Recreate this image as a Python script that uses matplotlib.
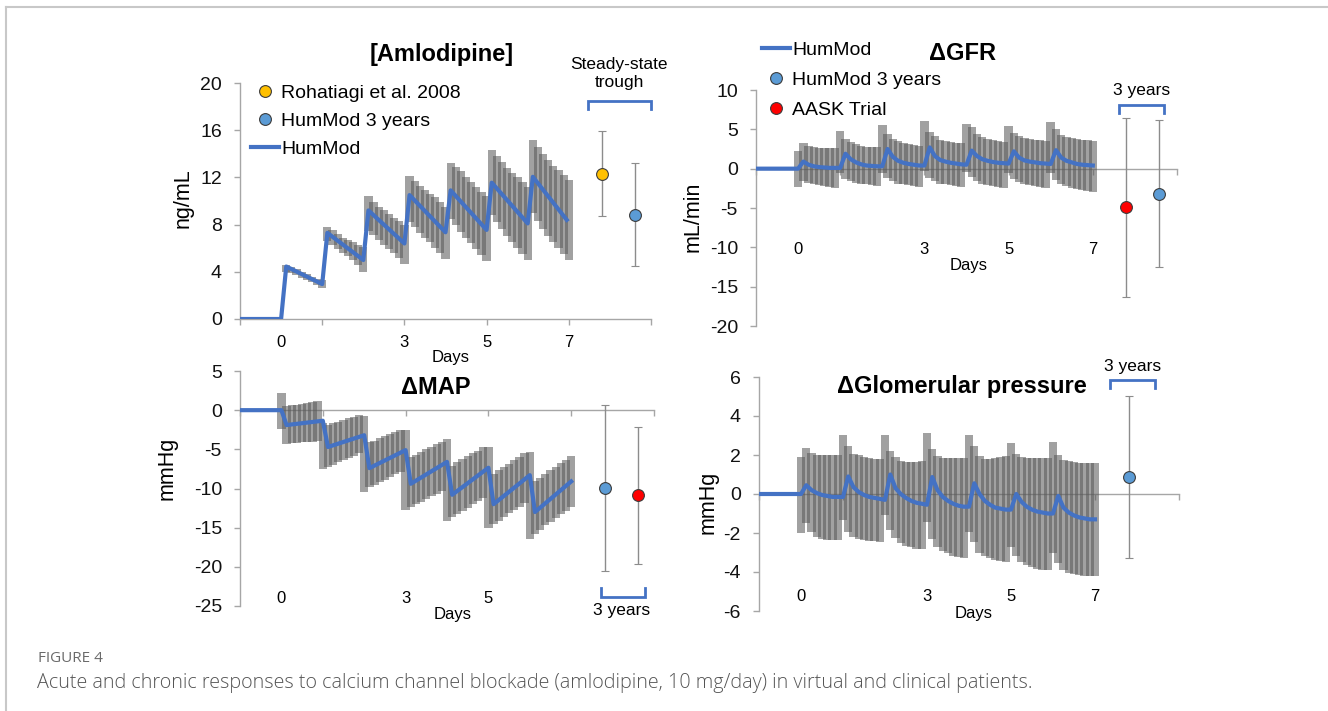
import numpy as np
import matplotlib.pyplot as plt
from matplotlib.lines import Line2D
from matplotlib.transforms import blended_transform_factory

plt.rcParams['font.family'] = ['Liberation Sans', 'DejaVu Sans']
plt.rcParams['axes.unicode_minus'] = False

W, H = 1328, 711

# grey bars: sampled every 3 h from day 0 to day 7
bar_t = np.arange(57) / 8.0
line_t = [-1] + list(bar_t)

# ---- [Amlodipine] ng/mL ----
aml_line_t = [-1, 0, 0.125, 1, 1.125, 2, 2.125, 3, 3.125, 4, 4.125, 5, 5.125, 6, 6.125, 6.95]
aml_line_y = [0, 0, 4.45, 2.96, 7.3, 5.0, 9.2, 6.4, 10.5, 7.35, 10.9, 7.55, 11.55, 8.1, 12.05, 8.4]
aml_hi = [0,
          4.6, 4.4, 4.2, 4.0, 3.8, 3.6, 3.4, 3.3,
          7.8, 7.5, 7.2, 6.9, 6.7, 6.5, 6.3, 6.1,
          10.4, 9.9, 9.5, 9.2, 8.9, 8.6, 8.3, 8.0,
          12.1, 11.7, 11.3, 10.9, 10.6, 10.3, 9.9, 9.5,
          13.2, 12.9, 12.5, 12.0, 11.6, 11.2, 10.8, 10.4,
          14.3, 13.8, 13.3, 12.8, 12.4, 12.0, 11.6, 11.2,
          15.2, 14.6, 14.0, 13.5, 13.0, 12.6, 12.2, 11.8]
aml_lo = [0,
          4.0, 3.9, 3.7, 3.5, 3.3, 3.1, 2.9, 2.6,
          6.6, 6.3, 5.9, 5.6, 5.3, 5.0, 4.6, 4.0,
          7.5, 7.1, 6.7, 6.3, 5.9, 5.6, 5.2, 4.7,
          8.2, 7.8, 7.3, 6.9, 6.5, 6.0, 5.6, 5.1,
          8.5, 8.0, 7.4, 6.9, 6.4, 5.9, 5.4, 4.9,
          8.8, 8.2, 7.6, 7.0, 6.5, 6.0, 5.5, 5.0,
          9.0, 8.3, 7.6, 7.0, 6.5, 6.0, 5.5, 5.0]
aml_pt_x = [7.8, 8.6]
aml_pt_y = [12.3, 8.85]
aml_pt_lo = [8.7, 4.5]
aml_pt_hi = [15.9, 13.2]

# ---- dGFR mL/min ----
gfr_line_y = [0,
              0, 0.9, 0.5, 0.3, 0.2, 0.15, 0.1, 0.1,
              0.1, 1.9, 1.2, 0.8, 0.55, 0.4, 0.35, 0.3,
              0.3, 2.5, 1.5, 1.0, 0.75, 0.6, 0.5, 0.4,
              0.4, 2.7, 1.6, 1.1, 0.9, 0.75, 0.65, 0.55,
              0.5, 2.3, 1.6, 1.2, 1.0, 0.85, 0.75, 0.7,
              0.65, 2.2, 1.4, 1.05, 0.9, 0.8, 0.7, 0.65,
              0.6, 2.35, 1.4, 1.0, 0.8, 0.6, 0.5, 0.45,
              0.4]
gfr_hi = [2.3, 3.3, 2.9, 2.7, 2.6, 2.6, 2.6, 2.6,
          4.8, 3.8, 3.4, 3.1, 2.9, 2.8, 2.8, 2.7,
          5.6, 4.4, 3.8, 3.5, 3.3, 3.1, 3.0, 2.9,
          6.0, 4.7, 4.1, 3.7, 3.5, 3.4, 3.3, 3.2,
          5.7, 5.3, 4.4, 4.0, 3.8, 3.6, 3.5, 3.4,
          5.4, 4.5, 4.1, 3.9, 3.8, 3.7, 3.6, 3.5,
          5.9, 5.0, 4.3, 4.0, 3.9, 3.8, 3.7, 3.6,
          3.5]
gfr_lo = [-2.3, -1.6, -1.8, -2.0, -2.1, -2.2, -2.3, -2.4,
          -0.6, -1.3, -1.6, -1.8, -1.9, -2.0, -2.1, -2.2,
          -0.5, -1.2, -1.6, -1.9, -2.0, -2.1, -2.2, -2.3,
          -0.3, -1.2, -1.6, -1.9, -2.0, -2.1, -2.2, -2.3,
          -0.4, -1.1, -1.6, -1.9, -2.1, -2.2, -2.3, -2.4,
          -0.6, -1.3, -1.7, -1.9, -2.1, -2.2, -2.3, -2.5,
          -0.6, -1.4, -1.9, -2.2, -2.4, -2.6, -2.7, -2.8,
          -2.95]
gfr_pt_x = [7.79, 8.57]
gfr_pt_y = [-4.9, -3.2]
gfr_pt_lo = [-16.3, -12.5]
gfr_pt_hi = [6.4, 6.2]

# ---- dMAP mmHg ----
map_line_t = [-1, 0, 0.125, 1, 1.125, 2, 2.125, 3, 3.125, 4, 4.125, 5, 5.125, 6, 6.125, 7]
map_line_y = [0, 0, -1.9, -1.35, -4.7, -3.2, -7.4, -5.1, -9.4, -6.6, -10.8, -7.35, -12.0, -8.3, -13.0, -9.1]
map_hi = [2.2, 0.5, 0.6, 0.7, 0.8, 0.9, 1.05, 1.15,
          -1.6, -1.9, -1.7, -1.5, -1.3, -1.05, -0.85, -0.6,
          -0.7, -4.1, -3.9, -3.6, -3.35, -3.05, -2.75, -2.5,
          -2.5, -6.0, -5.7, -5.3, -4.95, -4.65, -4.3, -4.0,
          -3.7, -7.1, -6.65, -6.2, -5.9, -5.5, -5.2, -4.75,
          -4.7, -8.1, -7.7, -7.3, -6.9, -6.4, -6.0, -5.5,
          -5.4, -9.1, -8.7, -8.2, -7.7, -7.2, -6.7, -6.3,
          -5.9]
map_lo = [-2.4, -4.3, -4.25, -4.2, -4.1, -4.05, -4.0, -3.9,
          -7.5, -7.3, -7.0, -6.65, -6.35, -6.1, -5.8, -5.5,
          -10.5, -9.8, -9.5, -9.2, -8.9, -8.55, -8.2, -7.9,
          -12.8, -12.4, -12.0, -11.7, -11.35, -11.0, -10.7, -10.3,
          -14.1, -13.6, -13.2, -12.9, -12.5, -12.0, -11.6, -11.2,
          -15.1, -14.5, -14.1, -13.6, -13.1, -12.7, -12.3, -11.9,
          -16.5, -15.8, -15.3, -14.7, -14.3, -13.8, -13.3, -12.9,
          -12.4]
map_pt_x = [7.82, 8.61]
map_pt_y = [-9.9, -10.8]
map_pt_lo = [-20.5, -19.6]
map_pt_hi = [0.7, -2.2]

# ---- dGlomerular pressure mmHg ----
glom_line_y = [0,
               0, 0.45, 0.2, 0.05, -0.05, -0.1, -0.15, -0.15,
               -0.15, 0.9, 0.35, 0.1, -0.05, -0.15, -0.2, -0.25,
               -0.3, 1.0, 0.3, 0.0, -0.2, -0.35, -0.45, -0.5,
               -0.55, 0.87, 0.2, -0.15, -0.35, -0.5, -0.6, -0.65,
               -0.65, 0.55, 0.0, -0.35, -0.55, -0.7, -0.75, -0.8,
               -0.8, 0.0, -0.4, -0.65, -0.8, -0.9, -0.95, -1.0,
               -1.0, -0.1, -0.7, -0.95, -1.1, -1.2, -1.25, -1.3,
               -1.3]
glom_hi = [1.9, 2.35, 2.1, 2.0, 2.0, 2.0, 2.0, 2.0,
           3.05, 2.45, 2.05, 2.0, 1.9, 1.85, 1.8, 1.8,
           3.05, 2.2, 1.9, 1.7, 1.65, 1.65, 1.65, 1.7,
           3.15, 2.3, 1.95, 1.85, 1.85, 1.85, 1.85, 1.85,
           3.05, 2.45, 1.95, 1.8, 1.8, 1.85, 1.9, 1.95,
           2.6, 2.05, 1.9, 1.85, 1.85, 1.85, 1.85, 1.85,
           2.65, 2.0, 1.75, 1.7, 1.65, 1.6, 1.6, 1.6,
           1.6]
glom_lo = [-2.0, -1.5, -1.95, -2.2, -2.3, -2.35, -2.35, -2.35,
           -1.35, -1.95, -2.2, -2.3, -2.35, -2.4, -2.4, -2.45,
           -1.1, -1.85, -2.25, -2.5, -2.65, -2.7, -2.8, -2.8,
           -1.45, -2.3, -2.7, -2.9, -3.05, -3.2, -3.25, -3.3,
           -1.95, -2.45, -3.0, -3.2, -3.3, -3.4, -3.45, -3.5,
           -2.7, -3.2, -3.5, -3.65, -3.75, -3.85, -3.9, -3.9,
           -3.0, -3.55, -3.9, -4.05, -4.1, -4.15, -4.2, -4.2,
           -4.2]
glom_pt_x = [7.8]
glom_pt_y = [0.85]
glom_pt_lo = [-3.3]
glom_pt_hi = [5.05]

day_labels = [0, 3, 5, 7]

line_blue = '#4472c4'
pt_blue = '#5b9bd5'
pt_yellow = '#ffc000'
pt_red = '#ff0000'
bar_grey = '#5a5a5a'
axis_grey = '#a6a6a6'

fig = plt.figure(figsize=(W / 100, H / 100), dpi=100)


def ax_at(l, t, r, b):
    return fig.add_axes([l / W, 1 - b / H, (r - l) / W, (b - t) / H])


def ftext(x, y, s, **kw):
    fig.text(x / W, 1 - y / H, s, ha='center', va='center', **kw)


def style(ax, ylim, yticks, lab_y, days_x, days_y, labels=day_labels):
    ax.set_xlim(-1, 9)
    ax.set_ylim(*ylim)
    ax.set_yticks(yticks)
    ax.set_xticks([-1, 1, 3, 5, 7, 9])
    ax.set_xticklabels([])
    for s in ['top', 'right']:
        ax.spines[s].set_visible(False)
    ax.spines['bottom'].set_position(('data', 0))
    for s in ['left', 'bottom']:
        ax.spines[s].set_color(axis_grey)
        ax.spines[s].set_linewidth(1)
        ax.spines[s].set_zorder(1)
    ax.tick_params(colors=axis_grey, labelcolor='#111111', labelsize=14, length=4, width=1)
    ax.tick_params(axis='y', pad=9)
    ax.patch.set_alpha(0)
    tr = blended_transform_factory(ax.transData, ax.transAxes)
    for d in labels:
        ax.text(d, lab_y, str(d), transform=tr, ha='center', va='center', fontsize=12)
    ax.text(days_x, days_y, 'Days', transform=tr, ha='center', va='center', fontsize=12)


def draw_series(ax, lt, ly, hi, lo):
    hi = np.array(hi)
    lo = np.array(lo)
    ax.bar(bar_t, hi - lo, bottom=lo, width=0.2, color=bar_grey, alpha=0.57,
           linewidth=0, zorder=2)
    ax.plot(lt, ly, color=line_blue, lw=3, zorder=3)


def draw_points(ax, xs, ys, los, his, colors):
    for x, y, lo, hi, c in zip(xs, ys, los, his, colors):
        ax.errorbar([x], [y], yerr=[[y - lo], [hi - y]], fmt='o', ms=8.5, mfc=c,
                    mec='#3c3c3c', mew=0.8, ecolor='#8c8c8c', elinewidth=1,
                    capsize=3, capthick=1, zorder=4, clip_on=False)


def bracket(ax, x0, x1, y_tip, y_bar):
    ax.plot([x0, x0, x1, x1], [y_tip, y_bar, y_bar, y_tip], color=line_blue, lw=2,
            clip_on=False, zorder=4, solid_joinstyle='miter')


def pt_handle(c):
    return Line2D([], [], ls='none', marker='o', ms=8.5, mfc=c, mec='#3c3c3c', mew=0.8)


line_handle = Line2D([], [], color=line_blue, lw=3)

# panel A
ax1 = ax_at(240, 83, 651, 319)
style(ax1, (0, 20), [0, 4, 8, 12, 16, 20], -0.10, 4.13, -0.165)
draw_series(ax1, aml_line_t, aml_line_y, aml_hi, aml_lo)
draw_points(ax1, aml_pt_x, aml_pt_y, aml_pt_lo, aml_pt_hi, [pt_yellow, pt_blue])
bracket(ax1, 7.47, 9.0, 17.8, 18.5)
ax1.legend([pt_handle(pt_yellow), pt_handle(pt_blue), line_handle],
           ['Rohatiagi et al. 2008', 'HumMod 3 years', 'HumMod'],
           loc='upper left', bbox_to_anchor=(251 / W, 1 - 84 / H), bbox_transform=fig.transFigure,
           frameon=False, fontsize=14, borderpad=0, borderaxespad=0, handlelength=1.45,
           handletextpad=0.1, labelspacing=0.55)
ftext(442, 55, '[Amlodipine]', fontsize=17, fontweight='bold')
ftext(619, 74, 'Steady-state\ntrough', fontsize=12.5, linespacing=1.25)
ftext(183, 198, 'ng/mL', fontsize=15.5, rotation=90)

# panel B
ax2 = ax_at(756, 90, 1177, 326)
style(ax2, (-20, 10), [-20, -15, -10, -5, 0, 5, 10], 0.326, 4.04, 0.258)
draw_series(ax2, line_t, gfr_line_y, gfr_hi, gfr_lo)
draw_points(ax2, gfr_pt_x, gfr_pt_y, gfr_pt_lo, gfr_pt_hi, [pt_red, pt_blue])
bracket(ax2, 7.62, 8.69, 7.1, 8.15)
ax2.legend([line_handle, pt_handle(pt_blue), pt_handle(pt_red)],
           ['HumMod', 'HumMod 3 years', 'AASK Trial'],
           loc='upper left', bbox_to_anchor=(762 / W, 1 - 41 / H), bbox_transform=fig.transFigure,
           frameon=False, fontsize=14, borderpad=0, borderaxespad=0, handlelength=1.45,
           handletextpad=0.1, labelspacing=0.65)
ftext(963, 53, '\u0394GFR', fontsize=17, fontweight='bold')
ftext(1142, 90, '3 years', fontsize=12.5)
ftext(693, 217, 'mL/min', fontsize=15.5, rotation=90)

# panel C
ax3 = ax_at(240, 371, 654, 606)
style(ax3, (-25, 5), [-25, -20, -15, -10, -5, 0, 5], 0.034, 4.14, -0.038, labels=[0, 3, 5])
draw_series(ax3, map_line_t, map_line_y, map_hi, map_lo)
draw_points(ax3, map_pt_x, map_pt_y, map_pt_lo, map_pt_hi, [pt_blue, pt_red])
bracket(ax3, 7.71, 8.78, -22.7, -23.85)
ftext(436, 387, '\u0394MAP', fontsize=17, fontweight='bold')
ftext(622, 610, '3 years', fontsize=12.5)
ftext(167, 468, 'mmHg', fontsize=15.5, rotation=90)

# panel D
ax4 = ax_at(759, 377, 1179, 611)
style(ax4, (-6, 6), [-6, -4, -2, 0, 2, 4, 6], 0.06, 4.1, -0.009)
draw_series(ax4, line_t, glom_line_y, glom_hi, glom_lo)
draw_points(ax4, glom_pt_x, glom_pt_y, glom_pt_lo, glom_pt_hi, [pt_blue])
bracket(ax4, 7.36, 8.43, 5.45, 5.85)
ftext(962, 387, '\u0394Glomerular pressure', fontsize=17, fontweight='bold')
ftext(1133, 367, '3 years', fontsize=12.5)
ftext(708, 502, 'mmHg', fontsize=15.5, rotation=90)

# page frame and caption
fig.add_artist(Line2D([6 / W, 6 / W], [0, 1 - 7 / H], color='#c8c8c8', lw=1.5))
fig.add_artist(Line2D([6 / W, 1], [1 - 7 / H, 1 - 7 / H], color='#c8c8c8', lw=1.5))
fig.text(38 / W, 1 - 658 / H, 'FIGURE 4', fontsize=11, color='#6a6a6a', va='center',
         family=['Open Sans', 'DejaVu Sans'])
fig.text(37 / W, 1 - 683 / H,
         'Acute and chronic responses to calcium channel blockade (amlodipine, 10 mg/day) '
         'in virtual and clinical patients.',
         fontsize=14.2, color='#555555', va='center', fontweight='light',
         family=['Open Sans', 'DejaVu Sans'])

fig.savefig('out.png', dpi=100)
